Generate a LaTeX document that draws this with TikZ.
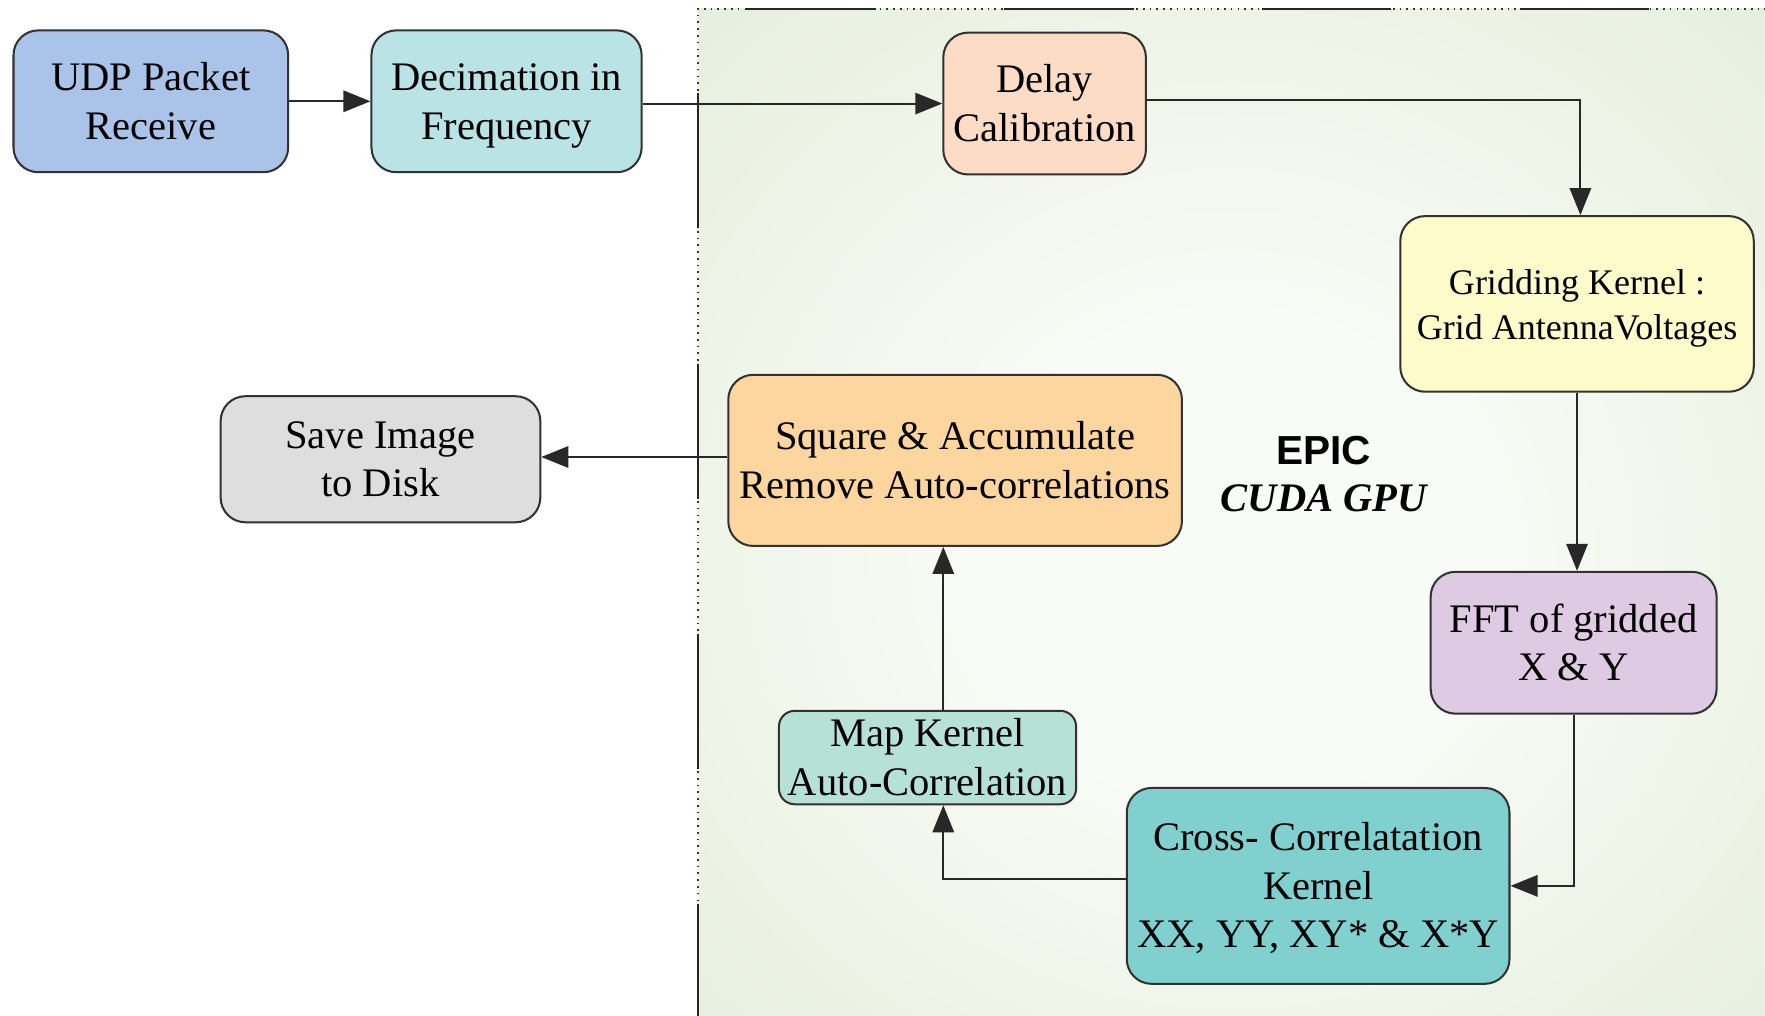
\documentclass[tikz,border=0pt]{standalone}
\usepackage{fontspec}
\setmainfont{Liberation Serif}
\newfontfamily\epicsans{Liberation Sans}
\usetikzlibrary{arrows.meta}
\definecolor{bgin}{RGB}{249,251,246}
\definecolor{bgout}{RGB}{219,232,206}
\definecolor{boxline}{RGB}{50,50,50}
\definecolor{arrline}{RGB}{40,40,40}
\definecolor{cudp}{RGB}{169,196,232}
\definecolor{cdec}{RGB}{185,227,228}
\definecolor{cdelay}{RGB}{253,220,197}
\definecolor{cgrid}{RGB}{254,251,203}
\definecolor{cfft}{RGB}{223,202,227}
\definecolor{ccross}{RGB}{128,208,208}
\definecolor{cmap}{RGB}{182,226,213}
\definecolor{csquare}{RGB}{253,213,158}
\definecolor{csave}{RGB}{222,222,222}
\pgfdeclareradialshading{epicbg}{\pgfpoint{0bp}{-3bp}}{color(0bp)=(bgin); color(12bp)=(bgin); color(50bp)=(bgout)}
\newcommand\tstr{\rule{0pt}{16pt}}
\newcommand\bstr{\rule[-4pt]{0pt}{4pt}}
\begin{document}
\begin{tikzpicture}[x=0.5pt,y=-0.5pt,
  box/.style={draw=boxline, line width=0.9pt, rounded corners=11pt, align=center,
    inner sep=0pt, font=\fontsize{18pt}{21.5pt}\selectfont},
  arr/.style={draw=arrline, line width=0.85pt, -{Triangle[length=12pt,width=9.5pt]}}]
\useasboundingbox (0,0) rectangle (1568,902.6);
\fill[white] (0,0) rectangle (1568,902.6);
% GPU region
\shade[shading=epicbg] (620,8) rectangle (1568,902.6);
\draw[draw=black!80, line width=0.75pt, dash pattern=on 0.75pt off 2.25pt] (620,902.6) -- (620,8) -- (1568,8);
\draw[draw=black!85, line width=1pt, dash pattern=on 57.5pt off 57pt, dash phase=93pt] (620,8) -- (1568,8);
\draw[draw=black!85, line width=1pt, dash pattern=on 60pt off 60pt, dash phase=82.5pt] (620,8) -- (620,902.6);
% boxes
\node[box, fill=cudp, minimum width=122pt, minimum height=63pt] (udp) at (134,90) {\tstr UDP Packet\\Receive\bstr};
\node[box, fill=cdec, minimum width=120pt, minimum height=63pt] (dec) at (450,90) {\tstr Decimation in\\Frequency\bstr};
\node[box, fill=cdelay, minimum width=90pt, minimum height=63pt] (delay) at (928,92) {\tstr Delay\\Calibration\bstr};
\node[box, fill=cgrid, minimum width=157pt, minimum height=78pt, font=\fontsize{16pt}{20pt}\selectfont] (grid) at (1401,270) {\tstr Gridding Kernel :\\Grid AntennaVoltages\bstr};
\node[box, fill=cfft, minimum width=127pt, minimum height=63pt] (fft) at (1398,571) {\tstr FFT of gridded\\X \& Y\bstr};
\node[box, fill=ccross, minimum width=170pt, minimum height=87pt] (cross) at (1171,787) {\tstr Cross- Correlatation\\Kernel\\XX, YY, XY* \& X*Y\bstr};
\node[box, fill=cmap, rounded corners=7pt, minimum width=132pt, minimum height=41pt] (map) at (824,673) {\tstr Map Kernel\\Auto-Correlation\bstr};
\node[box, fill=csquare, minimum width=201.5pt, minimum height=76pt] (square) at (848.5,409) {\tstr Square \& Accumulate\\Remove Auto-correlations\bstr};
\node[box, fill=csave, minimum width=142pt, minimum height=56pt] (save) at (338,408) {\tstr Save Image\\to Disk\bstr};
% labels
\node[font=\epicsans\bfseries\fontsize{18pt}{21.5pt}\selectfont] (epic) at (1176,400) {EPIC};
\node[font=\bfseries\itshape\fontsize{18pt}{21.5pt}\selectfont] (cuda) at (1176,443) {CUDA GPU};
% connectors
\coordinate (mx) at (838,0);
\draw[arr] (udp.east) -- (dec.west);
\draw[arr] (dec.east |- delay.west) -- (delay.west);
\draw[arr] ([yshift=1.5pt]delay.east) -| ([xshift=1.5pt]grid.north);
\draw[arr] (grid.south) -- (grid.south |- fft.north);
\draw[arr] (fft.south) |- (cross.east);
\draw[arr] ([yshift=3pt]cross.west) -| (mx |- map.south);
\draw[arr] (mx |- map.north) -- (mx |- square.south);
\draw[arr] ([yshift=1.5pt]square.west) -- ([yshift=1.5pt]square.west -| save.east);
\end{tikzpicture}
\end{document}
